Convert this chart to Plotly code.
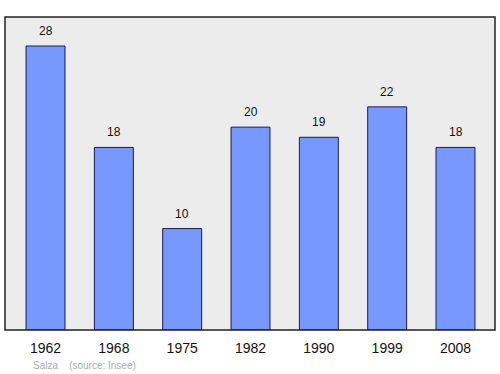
import plotly.graph_objects as go

years = ["1962", "1968", "1975", "1982", "1990", "1999", "2008"]
population = [28, 18, 10, 20, 19, 22, 18]

fig = go.Figure()
fig.add_trace(go.Bar(
    x=list(range(len(years))), y=population, width=0.57,
    marker=dict(color="#7799ff", line=dict(color="#1a1a4d", width=1)),
    hoverinfo="skip",
))
for i, v in enumerate(population):
    fig.add_annotation(x=i, y=v, text=str(v), showarrow=False, yshift=15,
                       font=dict(size=12, color="#111", family="Liberation Sans, Arial, sans-serif"))

fig.add_annotation(x=0, y=0, xref="paper", yref="paper", xanchor="left", yanchor="top",
                   xshift=26, yshift=-28, showarrow=False,
                   text="Salza&nbsp;&nbsp;&nbsp;&nbsp;(source: Insee)",
                   font=dict(size=10, color="#aaaaaa", family="Liberation Sans, Arial, sans-serif"))

fig.add_shape(type="rect", xref="paper", yref="paper", x0=0, y0=0, x1=1, y1=1,
              line=dict(color="#222", width=1.5), layer="above")

fig.update_layout(
    width=500, height=374,
    margin=dict(l=5, r=5, t=17, b=44),
    paper_bgcolor="white", plot_bgcolor="#ececec",
    showlegend=False,
    xaxis=dict(range=[-0.593, 6.578], tickmode="array", tickvals=list(range(len(years))),
               ticktext=years, showgrid=False, zeroline=False, ticks="",
               ticklabelstandoff=8,
               tickfont=dict(size=14, color="#111", family="Liberation Sans, Arial, sans-serif")),
    yaxis=dict(range=[0, 30.86], showgrid=False, zeroline=False, showticklabels=False, ticks=""),
)
fig.write_html("out.html")
